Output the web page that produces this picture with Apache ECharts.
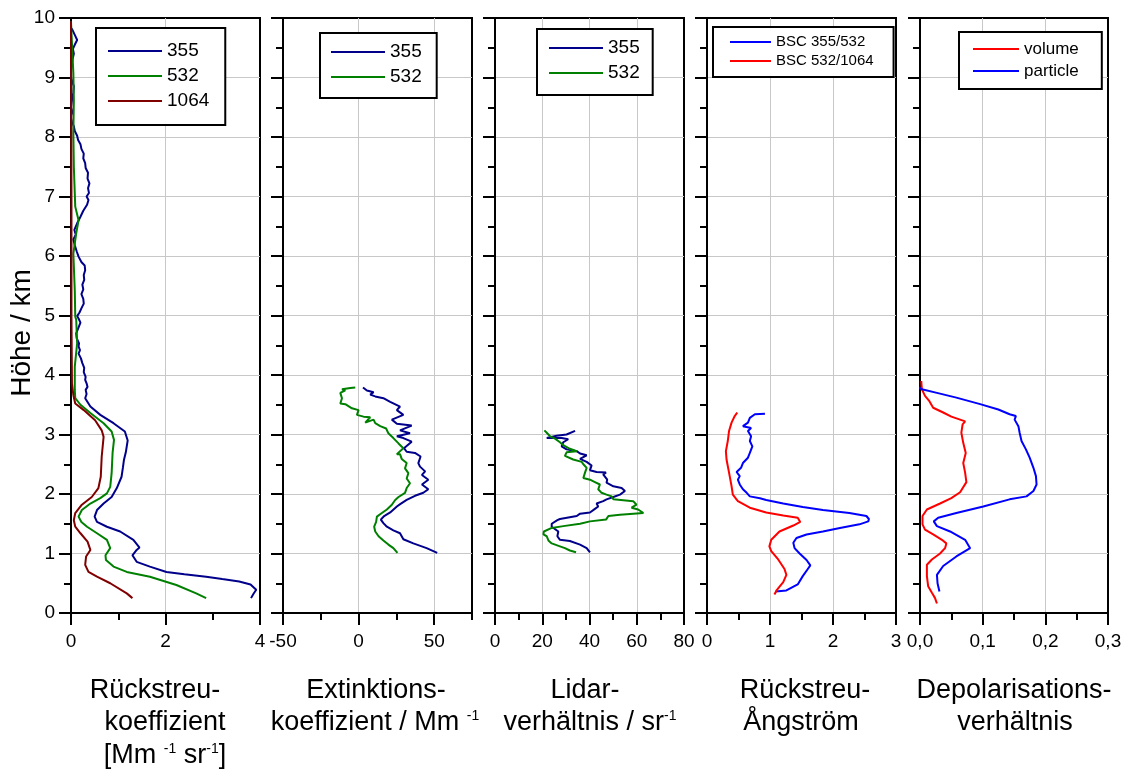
<!DOCTYPE html>
<html>
<head>
<meta charset="utf-8">
<script src="https://cdn.jsdelivr.net/npm/echarts@6/dist/echarts.min.js"></script>
<style>
  html, body { margin: 0; padding: 0; background: #fff; }
  #chart { width: 1131px; height: 778px; }
</style>
</head>
<body>
<div id="chart"></div>
<script>
// Lidar profiles, pairs are [value, height in km], listed from the ground up.

// Backscatter coefficient / Mm^-1 sr^-1
const bsc355 = [[3.81,0.25],[3.86,0.32],[3.92,0.39],[3.94,0.42],[3.80,0.48],[3.56,0.53],[3.20,0.57],[2.86,0.61],[2.40,0.65],[2.02,0.69],[1.67,0.78],[1.39,0.86],[1.30,0.97],[1.39,1.06],[1.45,1.10],[1.32,1.23],[1.04,1.37],[0.76,1.45],[0.55,1.53],[0.50,1.62],[0.55,1.73],[0.69,1.84],[0.86,1.95],[0.97,2.10],[1.07,2.29],[1.10,2.45],[1.12,2.57],[1.16,2.70],[1.18,2.80],[1.20,2.90],[1.14,3.05],[0.90,3.19],[0.62,3.33],[0.41,3.47],[0.30,3.61],[0.33,3.68],[0.31,3.75],[0.35,3.80],[0.33,3.86],[0.30,3.92],[0.31,3.97],[0.27,4.05],[0.28,4.12],[0.24,4.20],[0.21,4.28],[0.16,4.36],[0.19,4.42],[0.16,4.48],[0.17,4.53],[0.12,4.62],[0.11,4.70],[0.15,4.78],[0.20,4.88],[0.16,4.95],[0.13,4.99],[0.18,5.05],[0.22,5.12],[0.27,5.20],[0.26,5.28],[0.22,5.36],[0.26,5.44],[0.24,5.52],[0.28,5.60],[0.27,5.68],[0.30,5.76],[0.29,5.84],[0.22,5.90],[0.16,5.99],[0.12,6.08],[0.08,6.18],[0.05,6.28],[0.10,6.36],[0.07,6.44],[0.13,6.55],[0.20,6.66],[0.26,6.76],[0.34,6.86],[0.37,6.94],[0.33,7.00],[0.38,7.06],[0.36,7.14],[0.39,7.22],[0.35,7.30],[0.36,7.40],[0.31,7.48],[0.30,7.56],[0.26,7.64],[0.27,7.72],[0.22,7.80],[0.20,7.88],[0.15,7.95],[0.13,8.02],[0.08,8.10],[0.06,8.18],[0.02,8.26],[-0.01,8.34],[0.03,8.42],[0.00,8.50],[0.02,8.62],[0.05,8.75],[0.06,8.85],[0.02,8.95],[-0.02,9.05],[0.01,9.18],[0.03,9.30],[0.06,9.40],[0.04,9.48],[0.08,9.55],[0.13,9.63],[0.09,9.70],[0.03,9.80],[-0.04,9.88],[-0.08,9.94]];
const bsc532 = [[2.86,0.25],[2.65,0.33],[2.23,0.47],[1.67,0.61],[1.18,0.69],[0.90,0.78],[0.74,0.89],[0.73,0.97],[0.83,1.09],[0.76,1.23],[0.55,1.34],[0.34,1.45],[0.22,1.53],[0.16,1.62],[0.23,1.73],[0.41,1.84],[0.62,1.93],[0.76,2.01],[0.83,2.12],[0.86,2.35],[0.88,2.69],[0.91,2.91],[0.86,3.05],[0.69,3.19],[0.41,3.36],[0.20,3.50],[0.09,3.61],[0.08,3.75],[0.08,4.14],[0.13,4.53],[0.11,4.93],[0.09,4.98],[0.08,5.42],[0.05,6.04],[0.11,6.38],[0.16,6.60],[0.09,6.83],[0.06,7.50],[0.05,8.06],[0.06,8.62],[0.05,9.07],[0.01,9.74],[0.00,9.94]];
const bsc1064 = [[1.30,0.25],[1.18,0.33],[0.83,0.50],[0.55,0.61],[0.37,0.69],[0.30,0.81],[0.32,0.95],[0.41,1.06],[0.35,1.20],[0.20,1.34],[0.09,1.45],[0.06,1.56],[0.09,1.68],[0.23,1.82],[0.44,1.95],[0.58,2.10],[0.63,2.29],[0.65,2.63],[0.69,2.96],[0.65,3.07],[0.51,3.24],[0.27,3.41],[0.09,3.52],[0.05,3.66],[0.02,3.86],[0.01,5.00],[0.01,7.00],[0.00,9.94]];

// Extinction coefficient / Mm^-1
const ext355 = [[52.0,1.01],[45.0,1.09],[36.2,1.17],[29.6,1.24],[27.4,1.34],[23.0,1.39],[18.7,1.45],[16.4,1.51],[14.7,1.57],[16.9,1.63],[20.9,1.69],[25.3,1.79],[27.5,1.83],[31.8,1.90],[37.3,1.97],[42.8,2.02],[46.1,2.08],[41.9,2.16],[46.1,2.24],[41.9,2.32],[44.0,2.38],[40.6,2.46],[39.5,2.52],[41.0,2.63],[37.3,2.69],[31.8,2.71],[30.0,2.77],[35.1,2.88],[29.6,2.94],[25.3,2.97],[34.0,3.02],[27.4,3.07],[35.1,3.15],[25.3,3.18],[22.0,3.25],[29.6,3.33],[25.3,3.41],[27.4,3.47],[20.9,3.55],[16.4,3.61],[11.0,3.64],[7.7,3.67],[9.9,3.71],[5.5,3.74],[2.9,3.79]];
const ext532 = [[25.7,1.01],[23.0,1.09],[19.7,1.15],[16.4,1.22],[13.2,1.29],[11.0,1.37],[10.3,1.45],[11.6,1.53],[12.1,1.62],[15.4,1.68],[18.7,1.74],[22.0,1.82],[24.2,1.90],[26.4,1.95],[30.7,2.02],[31.8,2.10],[34.0,2.18],[31.8,2.26],[32.9,2.35],[30.7,2.43],[31.8,2.52],[28.5,2.59],[27.4,2.67],[25.3,2.67],[29.6,2.77],[26.4,2.85],[23.0,2.94],[19.7,3.02],[18.2,3.10],[14.3,3.14],[11.0,3.19],[9.9,3.25],[4.4,3.20],[7.7,3.29],[3.3,3.30],[-1.1,3.33],[0.0,3.41],[-4.4,3.44],[-8.8,3.51],[-12.1,3.52],[-11.0,3.61],[-12.1,3.70],[-8.8,3.74],[-11.0,3.76],[-5.5,3.78],[-2.2,3.79]];

// Lidar ratio / sr
const lr355 = [[40.2,1.02],[38.8,1.09],[36.0,1.15],[31.7,1.21],[27.5,1.23],[26.4,1.29],[26.8,1.37],[26.1,1.40],[24.0,1.45],[24.0,1.50],[26.4,1.56],[27.5,1.58],[34.6,1.63],[36.0,1.67],[40.2,1.69],[42.3,1.75],[43.7,1.79],[43.0,1.84],[45.8,1.88],[47.2,1.91],[50.1,1.95],[52.9,1.99],[55.0,2.05],[53.6,2.10],[50.1,2.13],[47.2,2.19],[47.5,2.24],[45.8,2.33],[47.0,2.36],[43.0,2.37],[40.2,2.40],[40.9,2.48],[38.8,2.54],[36.0,2.59],[38.8,2.65],[36.0,2.68],[34.6,2.72],[30.3,2.75],[28.2,2.80],[28.9,2.87],[31.0,2.92],[28.2,2.94],[24.7,2.94],[21.9,2.94],[26.1,2.98],[30.3,3.00],[33.9,3.06]];
const lr532 = [[34.3,1.02],[31.7,1.05],[29.6,1.09],[27.5,1.12],[24.0,1.17],[22.6,1.22],[21.9,1.29],[20.5,1.32],[20.7,1.37],[24.0,1.43],[28.9,1.46],[36.0,1.50],[40.2,1.54],[47.0,1.57],[48.0,1.63],[52.9,1.65],[62.8,1.68],[60.6,1.74],[57.8,1.77],[59.9,1.82],[58.5,1.88],[50.1,1.91],[49.4,1.96],[47.2,1.99],[45.1,2.02],[43.7,2.08],[44.4,2.16],[42.3,2.20],[40.2,2.24],[37.4,2.27],[38.1,2.36],[38.8,2.44],[37.4,2.50],[36.7,2.54],[33.1,2.58],[29.6,2.64],[30.3,2.70],[34.6,2.72],[31.7,2.76],[28.9,2.82],[27.5,2.87],[25.4,2.93],[23.3,2.97],[21.9,3.03],[20.9,3.07]];

// Backscatter Angstrom exponent
const ang355532 = [[1.09,0.36],[1.26,0.38],[1.44,0.48],[1.52,0.62],[1.60,0.74],[1.64,0.80],[1.58,0.89],[1.47,1.00],[1.39,1.09],[1.37,1.18],[1.42,1.26],[1.58,1.32],[1.84,1.37],[2.11,1.43],[2.42,1.49],[2.56,1.54],[2.57,1.58],[2.53,1.63],[2.26,1.68],[1.84,1.73],[1.52,1.78],[1.21,1.84],[0.94,1.90],[0.84,1.93],[0.68,1.96],[0.63,2.02],[0.57,2.08],[0.52,2.16],[0.49,2.24],[0.52,2.30],[0.47,2.37],[0.54,2.44],[0.57,2.52],[0.65,2.61],[0.68,2.69],[0.72,2.80],[0.68,2.89],[0.70,2.97],[0.65,3.06],[0.70,3.11],[0.57,3.14],[0.65,3.20],[0.68,3.28],[0.76,3.34],[0.92,3.35]];
const ang5321064 = [[1.07,0.31],[1.11,0.39],[1.21,0.52],[1.26,0.64],[1.23,0.74],[1.13,0.90],[1.02,1.04],[0.99,1.12],[1.02,1.23],[1.15,1.37],[1.37,1.47],[1.48,1.53],[1.44,1.60],[1.21,1.64],[0.94,1.69],[0.68,1.77],[0.49,1.88],[0.41,1.99],[0.39,2.13],[0.35,2.36],[0.31,2.58],[0.30,2.72],[0.33,2.89],[0.35,3.06],[0.39,3.20],[0.44,3.31],[0.48,3.37]];

// Depolarisation ratio
const depVolume = [[0.027,0.16],[0.024,0.25],[0.019,0.34],[0.013,0.45],[0.011,0.62],[0.011,0.81],[0.019,0.90],[0.032,1.00],[0.040,1.09],[0.042,1.17],[0.035,1.23],[0.021,1.32],[0.008,1.40],[0.004,1.49],[0.004,1.63],[0.011,1.74],[0.032,1.84],[0.050,1.93],[0.064,2.03],[0.074,2.20],[0.072,2.36],[0.069,2.52],[0.073,2.69],[0.069,2.86],[0.066,3.03],[0.068,3.17],[0.072,3.22],[0.064,3.25],[0.050,3.30],[0.037,3.37],[0.021,3.45],[0.015,3.56],[0.008,3.65],[0.003,3.76],[0.002,3.90]];
const depParticle = [[0.031,0.36],[0.028,0.50],[0.027,0.64],[0.037,0.79],[0.058,0.95],[0.080,1.09],[0.072,1.23],[0.048,1.37],[0.027,1.46],[0.022,1.54],[0.029,1.60],[0.058,1.68],[0.101,1.79],[0.143,1.91],[0.170,1.96],[0.181,2.05],[0.186,2.16],[0.185,2.30],[0.181,2.44],[0.175,2.61],[0.169,2.75],[0.162,2.89],[0.159,3.03],[0.157,3.14],[0.151,3.25],[0.153,3.31],[0.143,3.34],[0.125,3.42],[0.096,3.51],[0.058,3.62],[0.027,3.70],[0.003,3.76],[-0.008,3.83],[-0.015,3.93],[-0.019,3.99],[-0.021,4.07],[-0.019,4.12]];

// Tick settings of the five x axes
const xMin = [0, -50, 0, 0, 0];
const xMax = [4, 75, 80, 3, 0.3];
const xStep = [2, 50, 20, 1, 0.1];

const FONT = '"Liberation Sans", Arial, Helvetica, sans-serif';
const NAVY = '#00008b', GREEN = '#008000', MAROON = '#800000', BLUE = '#0000ff', RED = '#ff0000';
const panelLeft = [71, 283, 495, 707, 920];
const panelWidth = [189, 189, 189, 189, 188];
const TOP = 18, HEIGHT = 595;

const tickStyle = { color: '#000', width: 2 };
const gridLine = { show: true, showMinLine: false, showMaxLine: false, lineStyle: { color: '#c8c8c8', width: 1 } };

const grids = panelLeft.map((l, i) => ({
  left: l, top: TOP, width: panelWidth[i], height: HEIGHT,
  show: true, borderColor: '#000', borderWidth: 2, backgroundColor: 'transparent'
}));

const xAxes = xMin.map((mn, i) => ({
  gridIndex: i, type: 'value', position: 'bottom',
  min: mn, max: xMax[i], interval: xStep[i],
  axisLine: { show: true, onZero: false, lineStyle: tickStyle },
  axisTick: { show: true, length: 12, lineStyle: tickStyle },
  minorTick: { show: i !== 1, splitNumber: 2, length: 7, lineStyle: tickStyle },
  splitLine: gridLine,
  axisLabel: {
    color: '#000', fontSize: 19, fontFamily: FONT, margin: 19,
    showMaxLabel: i !== 1, showMinLabel: true,
    formatter: i === 4 ? (v => v.toFixed(1).replace('.', ',')) : (v => String(v))
  }
}));
// short ticks every 25 on the extinction axis
xAxes.push({
  gridIndex: 1, type: 'value', position: 'bottom', min: -50, max: 75, interval: 25,
  axisLine: { show: false }, axisLabel: { show: false }, splitLine: { show: false },
  axisTick: { show: true, length: 7, lineStyle: tickStyle }
});

const yAxes = panelLeft.map((l, i) => ({
  gridIndex: i, type: 'value', min: 0, max: 10, interval: 1,
  axisLine: { show: true, onZero: false, lineStyle: tickStyle },
  axisTick: { show: true, length: 12, lineStyle: tickStyle },
  minorTick: { show: true, splitNumber: 2, length: 7, lineStyle: tickStyle },
  splitLine: gridLine,
  axisLabel: { show: i === 0, color: '#000', fontSize: 19, fontFamily: FONT, margin: 16 }
}));

function profile(name, data, color, panel, clip) {
  return {
    type: 'line', name, data, xAxisIndex: panel, yAxisIndex: panel,
    symbol: 'none', color, lineStyle: { color, width: 2 },
    clip: clip !== false, z: 3, silent: true
  };
}

const series = [
  profile('355', bsc355, NAVY, 0, false),
  profile('532', bsc532, GREEN, 0),
  profile('1064', bsc1064, MAROON, 0),
  profile('355', ext355, NAVY, 1),
  profile('532', ext532, GREEN, 1),
  profile('355', lr355, NAVY, 2),
  profile('532', lr532, GREEN, 2),
  profile('BSC 355/532', ang355532, BLUE, 3),
  profile('BSC 532/1064', ang5321064, RED, 3),
  profile('volume', depVolume, RED, 4),
  profile('particle', depParticle, BLUE, 4, false)
];

function legendBox(names, left, top, lineLen, fontSize, gap, pad) {
  return {
    data: names, orient: 'vertical', left, top,
    icon: 'rect', itemWidth: lineLen, itemHeight: 2, itemGap: gap,
    itemStyle: { borderWidth: 0 },
    padding: pad, borderColor: '#000', borderWidth: 2, backgroundColor: '#fff',
    selectedMode: false,
    textStyle: { color: '#000', fontSize, fontFamily: FONT, lineHeight: fontSize + 1 }
  };
}

const legends = [
  legendBox(['355', '532', '1064'], 96, 28, 54, 19, 5, [13, 16, 14, 12]),
  legendBox(['355', '532'], 320, 33, 54, 19, 5, [9, 15, 11, 11]),
  legendBox(['355', '532'], 537, 29, 54, 19, 5, [9, 13, 12, 12]),
  legendBox(['BSC 355/532', 'BSC 532/1064'], 713, 27, 41, 15, 3, [7, 20, 8, 17]),
  legendBox(['volume', 'particle'], 959, 32, 46, 17, 4, [8, 23, 9, 14])
];

const TITLE = 27;
const rich = {
  sup: { fontSize: 14, fontFamily: FONT, fill: '#000', verticalAlign: 'top', lineHeight: 14 }
};
function title(text, x, y) {
  return {
    type: 'text', x, y, silent: true,
    style: {
      text, fill: '#000', fontSize: TITLE, fontFamily: FONT,
      align: 'center', verticalAlign: 'middle', rich
    }
  };
}

const graphics = [
  {
    type: 'text', x: 22, y: 333, rotation: Math.PI / 2, silent: true,
    style: { text: 'Höhe / km', fill: '#000', fontSize: 28, fontFamily: FONT, align: 'center', verticalAlign: 'middle' }
  },
  title('Rückstreu-', 155, 691),
  title('koeffizient', 165, 723),
  title('[Mm {sup|-1} sr{sup|-1}]', 165, 756),
  title('Extinktions-', 376, 691),
  title('koeffizient / Mm {sup|-1}', 375, 723),
  title('Lidar-', 585, 691),
  title('verhältnis / sr{sup|-1}', 590, 723),
  title('Rückstreu-', 805, 691),
  title('Ångström', 801, 723),
  title('Depolarisations-', 1014, 691),
  title('verhältnis', 1015, 723)
];

const chart = echarts.init(document.getElementById('chart'), null, { renderer: 'canvas' });
chart.setOption({
  animation: false,
  backgroundColor: '#fff',
  textStyle: { fontFamily: FONT },
  grid: grids,
  xAxis: xAxes,
  yAxis: yAxes,
  legend: legends,
  series,
  graphic: graphics
});
</script>
</body>
</html>
